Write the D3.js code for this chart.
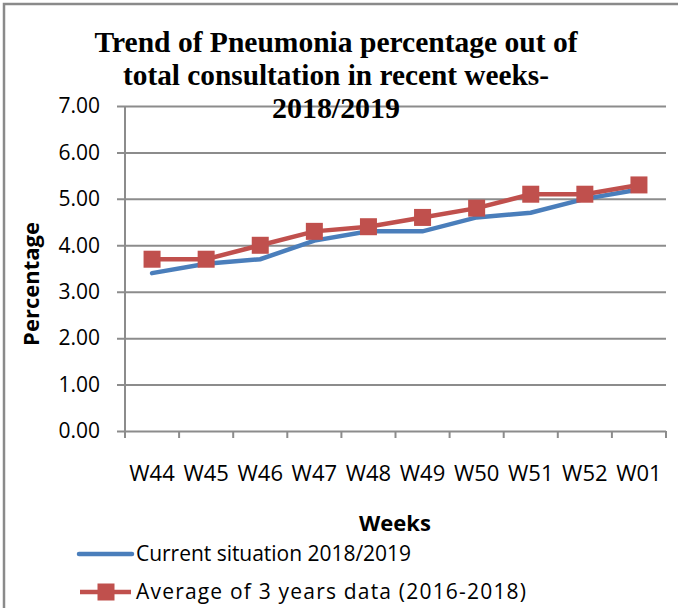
<!DOCTYPE html>
<head>
<meta charset="utf-8">
<script src="https://d3js.org/d3.v7.min.js"></script>
<style>
  body { margin:0; background:#fff; }
  svg { display:block; }
</style>
</head>
<body>
<div class="chart-container"></div>
<script>
// chart values
var weeks = ["W44","W45","W46","W47","W48","W49","W50","W51","W52","W01"];
var current = [3.4, 3.6, 3.7, 4.1, 4.3, 4.3, 4.6, 4.7, 5.0, 5.2];
var average = [3.7, 3.7, 4.0, 4.3, 4.4, 4.6, 4.8, 5.1, 5.1, 5.3];
var yTicks = [0, 1, 2, 3, 4, 5, 6, 7];
var titleLines = ["Trend of Pneumonia percentage out of", "total consultation in recent weeks-", "2018/2019"];
var seriesNames = ["Current situation 2018/2019", "Average of 3 years data (2016-2018)"];

var blue = "#4a7ebb", red = "#c0504d", grid = "#8c8c8c";
var sans = "'Open Sans', 'Liberation Sans', sans-serif";

var svg = d3.select(".chart-container").append("svg")
  .attr("width", 678)
  .attr("height", 608);

// outer frame (cut off at right and bottom like the picture)
svg.append("rect")
  .attr("x", 4).attr("y", 4)
  .attr("width", 700).attr("height", 700)
  .attr("fill", "none")
  .attr("stroke", "#8a8a8a")
  .attr("stroke-width", 2.5);

var x = d3.scaleBand().domain(weeks).range([125, 666]);
var y = d3.scaleLinear().domain([0, 7]).range([431, 106]);

// gridlines + y ticks
var yAxis = d3.axisLeft(y).tickValues(yTicks).tickSize(-(666 - 117)).tickFormat(d3.format(".2f"));
var gy = svg.append("g").attr("transform", "translate(117,0)").call(yAxis);
gy.select(".domain").remove();
gy.selectAll(".tick line").attr("stroke", grid).attr("stroke-width", 2);
gy.selectAll(".tick text")
  .attr("x", -17)
  .style("font-family", sans).style("font-size", "21px").attr("fill", "#000");

// vertical axis line
svg.append("line")
  .attr("x1", 125).attr("x2", 125).attr("y1", y(7)).attr("y2", 438)
  .attr("stroke", grid).attr("stroke-width", 2);

// x axis with ticks between categories
var xb = d3.scaleLinear().domain([0, weeks.length]).range([125, 666]);
var gx = svg.append("g").attr("transform", "translate(0,431)");
gx.selectAll("line.tk").data(d3.range(weeks.length + 1)).enter().append("line")
  .attr("x1", function (d) { return xb(d); })
  .attr("x2", function (d) { return xb(d); })
  .attr("y1", 0).attr("y2", 7)
  .attr("stroke", grid).attr("stroke-width", 2);
gx.selectAll("text").data(weeks).enter().append("text")
  .attr("x", function (d) { return x(d) + x.bandwidth() / 2; })
  .attr("y", 50)
  .attr("text-anchor", "middle")
  .style("font-family", sans).style("font-size", "22px")
  .text(function (d) { return d; });

// lines
var line = d3.line()
  .x(function (d, i) { return x(weeks[i]) + x.bandwidth() / 2; })
  .y(function (d) { return y(d); });

svg.append("path").datum(current)
  .attr("d", line).attr("fill", "none")
  .attr("stroke", blue).attr("stroke-width", 4.5).attr("stroke-linecap", "round");

svg.append("path").datum(average)
  .attr("d", line).attr("fill", "none")
  .attr("stroke", red).attr("stroke-width", 4.5);

var ms = 17;
svg.selectAll("rect.mk").data(average).enter().append("rect")
  .attr("class", "mk")
  .attr("x", function (d, i) { return x(weeks[i]) + x.bandwidth() / 2 - ms / 2; })
  .attr("y", function (d) { return y(d) - ms / 2; })
  .attr("width", ms).attr("height", ms)
  .attr("fill", red);

// title
var tl = [483, 426, 128];
svg.selectAll("text.title").data(titleLines).enter().append("text")
  .attr("class", "title")
  .attr("x", 336)
  .attr("y", function (d, i) { return 52 + i * 33; })
  .attr("text-anchor", "middle")
  .attr("textLength", function (d, i) { return tl[i]; })
  .attr("lengthAdjust", "spacingAndGlyphs")
  .style("font-family", "'Liberation Serif', 'Times New Roman', serif")
  .style("font-weight", "bold")
  .style("font-size", "30px")
  .text(function (d) { return d; });

// axis titles
svg.append("text")
  .attr("transform", "translate(39,284) rotate(-90)")
  .attr("text-anchor", "middle")
  .style("font-family", sans).style("font-weight", "bold").style("font-size", "22px")
  .text("Percentage");

svg.append("text")
  .attr("x", 395).attr("y", 531)
  .attr("text-anchor", "middle")
  .style("font-family", sans).style("font-weight", "bold").style("font-size", "22px")
  .text("Weeks");

// legend
var lg = svg.append("g");
lg.append("line").attr("x1", 79).attr("x2", 132).attr("y1", 554).attr("y2", 554)
  .attr("stroke", blue).attr("stroke-width", 4.5).attr("stroke-linecap", "round");
lg.append("line").attr("x1", 80).attr("x2", 131).attr("y1", 592).attr("y2", 592)
  .attr("stroke", red).attr("stroke-width", 4.5);
lg.append("rect").attr("x", 106 - ms / 2).attr("y", 592 - ms / 2)
  .attr("width", ms).attr("height", ms).attr("fill", red);
var legLen = [275, 390];
lg.selectAll("text").data(seriesNames).enter().append("text")
  .attr("x", 136)
  .attr("y", function (d, i) { return 561 + i * 38; })
  .attr("textLength", function (d, i) { return legLen[i]; })
  .attr("lengthAdjust", "spacing")
  .style("font-family", sans).style("font-size", "21px")
  .text(function (d) { return d; });
</script>
</body>
